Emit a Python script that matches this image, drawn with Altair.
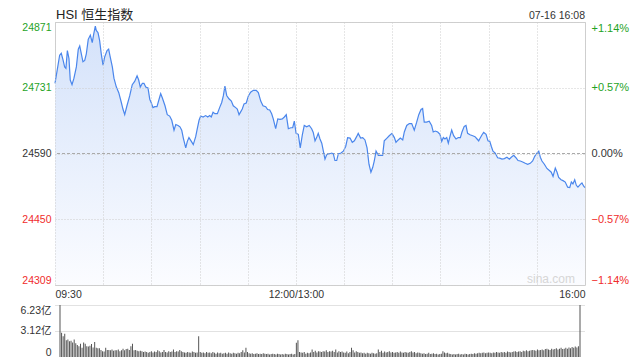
import altair as alt
import pandas as pd

FONT = "Liberation Sans, Noto Sans CJK SC"
TITLE = ["HSI 恒生指数"]
STAMP = ["07-16 16:08"]
WATERMARK = ["sina.com"]
PREV_CLOSE = 24590
PRICE_TICKS = [24309, 24450, 24590, 24731, 24871]
VOL_TICKS = [0, 3.12, 6.23]
VOL_UNIT = "亿"
TIME_TICKS = [0, 150, 330]
TIME_LABELS = ["09:30", "12:00/13:00", "16:00"]
GRID_MINUTES = list(range(0, 331, 30))

# minutes of trading time since 09:30 (lunch break removed)
MINUTES = [
    0.0, 2.9, 3.9, 5.0, 6.0, 6.8, 7.7, 8.7, 9.5, 10.6,
    11.8, 13.3, 14.5, 15.4, 16.4, 17.4, 18.5, 19.5, 20.7, 22.0,
    23.2, 24.1, 25.1, 25.7, 26.8, 27.8, 28.8, 29.9, 30.9, 32.4,
    33.4, 34.4, 35.7, 36.7, 38.2, 39.7, 41.3, 42.3, 43.4, 44.8,
    46.5, 48.1, 49.6, 51.1, 52.1, 53.1, 54.4, 55.4, 56.5, 57.9,
    59.0, 60.0, 61.0, 62.1, 63.5, 64.8, 65.8, 66.8, 68.5, 69.9,
    71.4, 72.7, 74.1, 75.2, 76.6, 77.8, 78.9, 79.9, 81.4, 82.4,
    83.4, 84.9, 86.1, 87.6, 88.6, 89.7, 90.7, 92.2, 93.8, 95.1,
    96.3, 97.3, 98.4, 99.6, 101.1, 102.5, 103.8, 104.8, 105.8, 106.9,
    108.3, 109.8, 111.0, 112.5, 113.5, 114.6, 115.6, 116.6, 117.7, 119.1,
    120.4, 121.8, 123.5, 125.3, 126.6, 128.1, 129.5, 131.2, 132.4, 133.7,
    134.9, 135.9, 137.4, 138.7, 140.1, 141.5, 142.8, 144.0, 145.3, 146.8,
    148.0, 149.0, 150.1, 151.5, 152.7, 154.0, 155.2, 156.7, 158.3, 159.8,
    160.8, 161.9, 162.9, 163.9, 165.0, 166.1, 167.1, 168.1, 169.2, 170.6,
    172.3, 173.3, 174.3, 175.4, 176.4, 178.1, 179.5, 181.0, 182.2, 183.7,
    185.1, 186.4, 187.8, 188.8, 190.3, 191.6, 193.0, 194.3, 195.5, 196.7,
    197.8, 198.8, 199.9, 201.3, 203.0, 204.0, 205.0, 206.7, 208.1, 209.8,
    211.3, 212.3, 213.7, 215.0, 216.5, 217.5, 219.0, 220.6, 222.1, 223.7,
    225.2, 226.5, 227.9, 228.9, 229.9, 231.4, 233.0, 234.5, 235.5, 236.8,
    238.3, 239.7, 240.8, 241.8, 242.8, 243.9, 244.9, 245.9, 247.0, 248.2,
    249.7, 251.1, 252.4, 253.4, 254.8, 255.9, 256.9, 258.4, 260.1, 261.5,
    262.8, 263.8, 264.4, 265.9, 266.9, 268.4, 269.6, 270.7, 271.7, 272.7,
    274.1, 275.6, 276.9, 278.3, 279.8, 281.4, 282.9, 284.1, 285.6, 287.0,
    288.3, 289.7, 291.2, 292.8, 294.3, 295.9, 297.4, 298.7, 300.1, 301.2,
    302.2, 303.2, 304.7, 306.3, 308.0, 309.0, 310.1, 311.5, 312.6, 313.6,
    315.1, 316.3, 317.7, 319.2, 320.5, 321.5, 322.5, 323.6, 324.6, 325.6,
    327.1, 328.1, 329.2, 330.0,
]
PRICES = [
    24740, 24800, 24804, 24790, 24775, 24772, 24810, 24793, 24747, 24737,
    24751, 24775, 24813, 24820, 24803, 24786, 24789, 24803, 24834, 24843,
    24827, 24845, 24862, 24853, 24848, 24831, 24803, 24779, 24796, 24810,
    24813, 24796, 24775, 24751, 24732, 24720, 24699, 24685, 24673, 24692,
    24713, 24737, 24744, 24756, 24747, 24732, 24740, 24740, 24732, 24730,
    24706, 24698, 24688, 24690, 24690, 24706, 24718, 24709, 24692, 24673,
    24670, 24661, 24640, 24652, 24650, 24647, 24640, 24623, 24602, 24616,
    24624, 24616, 24609, 24626, 24643, 24661, 24670, 24668, 24671, 24668,
    24671, 24668, 24678, 24675, 24675, 24688, 24699, 24713, 24734, 24714,
    24707, 24702, 24692, 24688, 24685, 24673, 24679, 24685, 24696, 24698,
    24713, 24721, 24725, 24725, 24720, 24702, 24692, 24690, 24684, 24683,
    24675, 24664, 24643, 24664, 24663, 24664, 24668, 24673, 24643, 24645,
    24645, 24659, 24633, 24631, 24602, 24630, 24650, 24647, 24650, 24643,
    24635, 24617, 24624, 24633, 24621, 24612, 24595, 24578, 24588, 24589,
    24591, 24589, 24575, 24575, 24589, 24591, 24595, 24605, 24624, 24623,
    24614, 24617, 24626, 24633, 24623, 24624, 24619, 24602, 24567, 24550,
    24560, 24574, 24595, 24586, 24586, 24586, 24617, 24623, 24628, 24633,
    24624, 24614, 24619, 24623, 24619, 24636, 24650, 24654, 24654, 24640,
    24657, 24673, 24684, 24686, 24657, 24657, 24659, 24650, 24636, 24638,
    24636, 24631, 24616, 24624, 24621, 24624, 24612, 24626, 24640, 24628,
    24621, 24624, 24624, 24636, 24648, 24650, 24633, 24630, 24628, 24626,
    24621, 24617, 24621, 24630, 24635, 24631, 24617, 24616, 24605, 24595,
    24591, 24581, 24580, 24578, 24579, 24582, 24578, 24582, 24586, 24581,
    24575, 24574, 24572, 24569, 24567, 24569, 24574, 24584, 24591, 24595,
    24582, 24574, 24567, 24558, 24553, 24550, 24541, 24559, 24550, 24539,
    24534, 24532, 24529, 24518, 24517, 24529, 24525, 24534, 24522, 24518,
    24524, 24527, 24520, 24517,
]

# turnover per minute, in 亿
VOLUMES = [
    6.23,
    2.9, 2.5, 2.8,
    2.0, 2.1, 1.9, 1.95, 1.75, 2.1, 1.65,
    1.45, 1.3, 1.6, 1.1, 1.75, 1.6, 1.3, 1.25, 1.35, 1.55,
    1.15, 1.8, 1.1, 1.05, 1.05, 0.85, 0.7, 0.65, 1.1, 0.85,
    0.85, 0.8, 0.9, 0.75, 0.8, 0.8, 0.9, 0.7, 0.8, 1.0,
    0.8, 0.95, 1.0, 0.85, 1.3, 1.6, 0.8, 0.85, 0.75, 0.7,
    0.75, 0.7, 0.6, 0.65, 0.6, 0.5, 0.6, 0.7, 0.55, 0.65,
    0.6, 0.8, 0.7, 0.55, 0.6, 0.85, 0.6, 0.55, 0.7, 0.6,
    0.65, 0.9, 0.6, 0.7, 0.65, 0.85, 0.7, 0.6, 0.55, 0.5,
    0.6, 0.55, 0.5, 0.65, 0.6, 0.5, 0.55, 2.5, 0.6, 0.5,
    0.55, 0.45, 0.6, 0.5, 0.55, 0.45, 0.6, 0.5, 0.4, 0.55,
    0.45, 0.5, 0.4, 0.45, 0.5, 0.4, 0.55, 0.45, 0.4, 0.5,
    0.45, 0.4, 0.5, 0.45, 0.6, 0.8, 0.55, 1.1, 0.6, 0.45,
    0.4, 0.45, 0.35, 0.4, 0.45, 0.35, 0.4, 0.35, 0.45, 0.4,
    0.35, 0.4, 0.3, 0.35, 0.4, 0.35, 0.3, 0.4, 0.35, 0.3,
    0.35, 0.3, 0.4, 0.35, 0.3, 0.35, 0.4, 0.3, 0.35, 1.7,
    2.0, 0.6, 0.55, 0.5, 0.6, 0.4, 0.5, 0.45, 0.55, 0.9,
    0.6, 0.75, 0.55, 0.7, 0.65, 0.6, 0.7, 0.65, 0.8, 0.6,
    0.7, 0.65, 0.75, 0.6, 0.9, 0.55, 0.7, 0.6, 0.65, 0.55,
    0.5, 0.65, 0.45, 0.6, 1.1, 0.8, 0.55, 0.7, 0.6, 0.5,
    0.55, 0.45, 0.5, 0.4, 0.5, 0.45, 0.4, 0.5, 0.45, 0.4,
    0.45, 0.9, 0.6, 0.75, 0.5, 0.65, 0.55, 0.6, 0.7, 0.55,
    0.6, 0.5, 0.55, 0.6, 0.5, 0.65, 0.55, 0.5, 0.6, 0.55,
    0.5, 0.6, 0.7, 0.55, 0.6, 0.45, 0.55, 0.5, 0.45, 0.4,
    0.45, 0.35, 0.4, 0.5, 0.35, 0.4, 0.45, 0.35, 0.4, 0.3,
    0.35, 0.4, 0.7, 0.55, 0.45, 0.5, 0.4, 0.35, 0.3, 0.35,
    0.3, 0.35, 0.4, 0.3, 0.35, 0.3, 0.4, 0.35, 0.3, 0.35,
    0.4, 0.35, 0.45, 0.4, 0.45, 0.5, 0.45, 0.5, 0.55, 0.45,
    0.5, 0.55, 0.5, 0.45, 0.55, 0.5, 0.6, 0.55, 0.5, 0.6,
    0.55, 0.6, 0.5, 0.65, 0.6, 0.55, 0.6, 0.65, 0.7, 0.6,
    0.65, 0.7, 0.6, 0.75, 0.7, 0.8, 0.7, 0.75, 0.8, 0.85,
    0.8, 0.75, 0.9, 0.8, 0.85, 0.9, 0.8, 0.95, 1.0, 0.9,
    0.85, 1.0, 0.9, 0.95, 1.05, 0.9, 1.0, 1.1, 0.95, 1.0,
    1.1, 1.0, 1.15, 1.05, 1.2, 1.1, 1.25, 1.15, 1.3,
    6.23,
]

assert len(MINUTES) == len(PRICES)
VOL_MINUTES = list(range(len(VOLUMES)))

GREEN = "#1fa31f"
RED = "#f02c2c"
INK = "#333333"
W, H, VH = 530, 263, 52

price_df = pd.DataFrame({"m": MINUTES, "p": PRICES})
vol_df = pd.DataFrame({"m": VOL_MINUTES, "v": VOLUMES})

time_expr = " : ".join(
    f"datum.value == {t} ? '{lab}'" for t, lab in zip(TIME_TICKS, TIME_LABELS)
) + " : ''"

x_scale = alt.Scale(domain=[0, 330], nice=False, zero=False)
x_enc = alt.X(
    "m:Q",
    scale=x_scale,
    axis=alt.Axis(
        values=GRID_MINUTES, title=None, domain=False, ticks=False,
        grid=True, gridColor="#cccccc", gridDash=[1, 2],
        labelExpr=time_expr, labelFlush=True, labelOverlap=False,
        labelFont=FONT, labelFontSize=10.5, labelColor=INK, labelPadding=4,
        zindex=1,
    ),
)
y_scale = alt.Scale(domain=[PRICE_TICKS[0], PRICE_TICKS[-1]], nice=False, zero=False)

left_axis = alt.Axis(
    values=PRICE_TICKS, orient="left", title=None, domain=False, ticks=False,
    grid=True, gridColor="#cccccc", gridDash=[1, 2], format="d",
    labelFlush=True, labelPadding=4, labelFont=FONT, labelFontSize=10.5,
    labelColor={
        "condition": [
            {"test": f"datum.value > {PREV_CLOSE}", "value": GREEN},
            {"test": f"datum.value < {PREV_CLOSE}", "value": RED},
        ],
        "value": INK,
    },
    zindex=1,
)
right_axis = alt.Axis(
    values=PRICE_TICKS, orient="right", title=None, domain=False, ticks=False,
    grid=False, labelFlush=True, labelPadding=6, labelFont=FONT, labelFontSize=11,
    labelExpr=f"(datum.value > {PREV_CLOSE} ? '+' : '') + format((datum.value / {PREV_CLOSE} - 1) * 100, '.2f') + '%'",
    labelColor={
        "condition": [
            {"test": f"datum.value > {PREV_CLOSE}", "value": GREEN},
            {"test": f"datum.value < {PREV_CLOSE}", "value": RED},
        ],
        "value": INK,
    },
)

gradient = alt.Gradient(
    gradient="linear",
    stops=[alt.GradientStop(color="#d4e2fa", offset=0),
           alt.GradientStop(color="#fbfcff", offset=1)],
    x1=1, x2=1, y1=0, y2=1,
)

base = alt.Chart(price_df)
area = base.mark_area(color=gradient).encode(
    x=x_enc,
    y=alt.Y("p:Q", scale=y_scale, axis=left_axis),
    y2=alt.datum(PRICE_TICKS[0]),
)
rule = alt.Chart(pd.DataFrame({"p": [PREV_CLOSE]})).mark_rule(
    color="#aaaaaa", strokeDash=[3, 2], strokeWidth=1
).encode(y=alt.Y("p:Q", scale=y_scale, axis=None))
line = base.mark_line(color="#4a86ec", strokeWidth=1.2).encode(
    x=x_enc,
    y=alt.Y("p:Q", scale=y_scale, axis=right_axis),
)
title = alt.Chart(pd.DataFrame({"t": TITLE})).mark_text(
    align="left", baseline="middle", font=FONT, fontSize=13, color="#222222"
).encode(text="t:N", x=alt.value(1), y=alt.value(-7))
stamp = alt.Chart(pd.DataFrame({"t": STAMP})).mark_text(
    align="right", baseline="middle", font=FONT, fontSize=10.5, color=INK
).encode(text="t:N", x=alt.value(W), y=alt.value(-6))
mark = alt.Chart(pd.DataFrame({"t": WATERMARK})).mark_text(
    align="right", baseline="middle", font=FONT, fontSize=12, color="#d6d6d6"
).encode(text="t:N", x=alt.value(W - 10), y=alt.value(H - 6))

main = alt.layer(area, rule, line, mark, title, stamp).resolve_axis(
    y="independent"
).properties(width=W, height=H, view=alt.ViewBackground(stroke="#cfcfcf"))

vol = alt.Chart(vol_df).mark_bar(color="#555555", size=1).encode(
    x=alt.X("m:Q", scale=x_scale, axis=None),
    y=alt.Y(
        "v:Q",
        scale=alt.Scale(domain=[VOL_TICKS[0], VOL_TICKS[-1]], nice=False),
        axis=alt.Axis(
            values=VOL_TICKS, title=None, domain=False, ticks=False,
            grid=True, gridColor="#c4c4c4", gridDash=[1, 1],
            gridOpacity={"condition": {"test": "datum.value == 0", "value": 0}, "value": 1},
            labelExpr=f"datum.value == 0 ? '0' : format(datum.value, '.2f') + '{VOL_UNIT}'",
            labelFlush=True, labelPadding=4, labelFont=FONT, labelFontSize=10.5,
            labelColor=INK,
        ),
    ),
).properties(width=W, height=VH, view=alt.ViewBackground(stroke="transparent"))

chart = alt.vconcat(main, vol, spacing=20, bounds="flush").properties(
    padding={"left": 11, "top": 0, "right": 0, "bottom": 0}
).configure(font=FONT)

chart.save("out.html", embed_options={"renderer": "svg", "actions": False})
